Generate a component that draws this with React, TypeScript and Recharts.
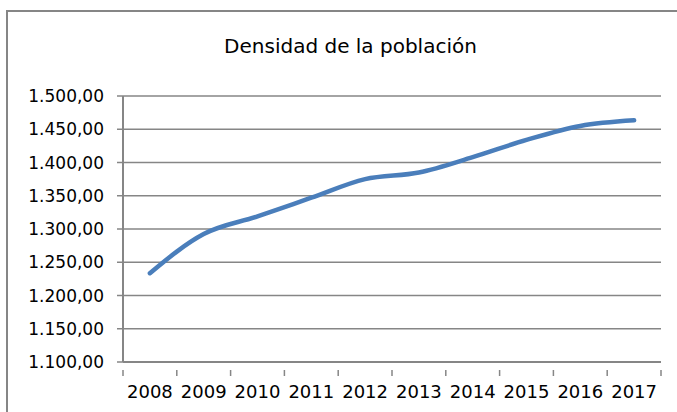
import React from 'react';
import { LineChart, Line, XAxis, YAxis, CartesianGrid } from 'recharts';

const years = ['2008', '2009', '2010', '2011', '2012', '2013', '2014', '2015', '2016', '2017'];
const densidad = [1233.5, 1292.5, 1319, 1347, 1375, 1385, 1408, 1434, 1455, 1463.5];
const yTicks = [1100, 1150, 1200, 1250, 1300, 1350, 1400, 1450, 1500];

const chartData = years.map((year, i) => ({ year, densidad: densidad[i] }));

const FONT = '"DejaVu Sans", sans-serif';
const GRID = '#868686';
const PLOT_LEFT = 123;
const PLOT_RIGHT = 661;
const BAND = (PLOT_RIGHT - PLOT_LEFT) / years.length;

// Spanish style: 1.500,00
const formatEs = (v: number) => {
  const [int, dec] = v.toFixed(2).split('.');
  return int.replace(/\B(?=(\d{3})+(?!\d))/g, '.') + ',' + dec;
};

const YearTick = (props: any) => {
  const { x, y, payload, index } = props;
  const last = index === years.length - 1;
  return (
    <g>
      <line x1={x - BAND / 2} y1={y} x2={x - BAND / 2} y2={y + 6} stroke={GRID} strokeWidth={1.5} />
      {last && <line x1={x + BAND / 2} y1={y} x2={x + BAND / 2} y2={y + 6} stroke={GRID} strokeWidth={1.5} />}
      <text x={x} y={y + 28} textAnchor="middle" fontFamily={FONT} fontSize={18} fill="#000">
        {payload.value}
      </text>
    </g>
  );
};

export default function App() {
  return (
    <div style={{ position: 'relative', width: 677, height: 412, background: '#fff', overflow: 'hidden' }}>
      <style>{`body{margin:0}`}</style>
      <div
        style={{
          position: 'absolute',
          left: 6,
          top: 10,
          width: 680,
          height: 420,
          border: `2px solid ${GRID}`,
          boxSizing: 'border-box',
        }}
      />
      <div
        style={{
          position: 'absolute',
          left: 24,
          width: 653,
          top: 34,
          textAlign: 'center',
          fontFamily: FONT,
          fontSize: 20,
          color: '#000',
        }}
      >
        Densidad de la población
      </div>
      <div style={{ position: 'absolute', left: 0, top: 0 }}>
        <LineChart width={677} height={412} data={chartData} margin={{ top: 96, right: 677 - PLOT_RIGHT, bottom: 0, left: 0 }}>
          <CartesianGrid vertical={false} stroke={GRID} strokeWidth={1.5} />
          <XAxis
            dataKey="year"
            height={50}
            padding={{ left: BAND / 2, right: BAND / 2 }}
            axisLine={{ stroke: GRID, strokeWidth: 2 }}
            tickLine={false}
            tick={<YearTick />}
            interval={0}
          />
          <YAxis
            width={PLOT_LEFT}
            domain={[1100, 1500]}
            ticks={yTicks}
            tickFormatter={formatEs}
            axisLine={{ stroke: GRID, strokeWidth: 2 }}
            tickLine={{ stroke: GRID, strokeWidth: 1.5 }}
            tickSize={6}
            tickMargin={13}
            tick={{ fill: '#000', fontFamily: FONT, fontSize: 17 }}
          />
          <Line
            type="monotone"
            dataKey="densidad"
            stroke="#4a7ebb"
            strokeWidth={4.5}
            dot={false}
            strokeLinecap="round"
            isAnimationActive={false}
          />
        </LineChart>
      </div>
    </div>
  );
}
